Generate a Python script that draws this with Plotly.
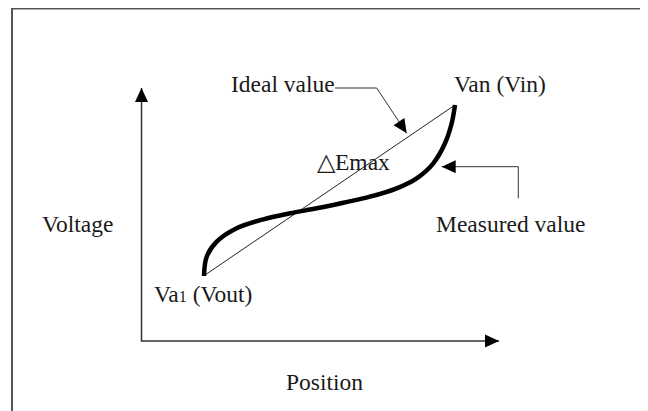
import plotly.graph_objects as go
import numpy as np

# diagram coordinates (pixel-like units, y grows downward)
measured_x = [204, 206.7, 216.7, 236.7, 263.3, 290, 316.7, 343.3, 370, 396.7, 416.7, 433.3, 445, 451.7, 455]
measured_y = [276, 256.7, 241.7, 228.3, 219.3, 213.3, 208.3, 202.7, 196.7, 188.3, 178.3, 163.3, 143.3, 123.3, 105]

ideal_x = [205, 455]
ideal_y = [275, 105]

# axis lines: top of y axis, corner, end of x axis
axis_x = [141.5, 141.5, 499]
axis_y = [88, 341, 341]

# leader lines
ideal_leader_x = [335, 376.7, 406.7]
ideal_leader_y = [88, 88, 133.3]
measured_leader_x = [518.3, 518.3, 441.7]
measured_leader_y = [198.3, 166.7, 166.7]

# border (top and left)
border_x = [660, 12, 12]
border_y = [8.5, 8.5, 420]

labels = ["Ideal value", "Van (Vin)", "△Emax", "Measured value",
          "Va<span style='font-size:16px'>1</span> (Vout)", "Voltage", "Position"]
label_x = [229, 452, 315, 434, 152, 40, 284]
label_y = [84, 84, 162, 224, 294, 224, 382]

FONT = "Liberation Serif, Times New Roman, serif"


def arrow_path(tail, tip, length=14, half=6.5):
    # filled triangle pointing from tail towards tip
    d = np.array(tip, float) - np.array(tail, float)
    d = d / np.hypot(*d)
    n = np.array([-d[1], d[0]])
    base = np.array(tip) - d * length
    p1 = base + n * half
    p2 = base - n * half
    return f"M {tip[0]},{tip[1]} L {p1[0]},{p1[1]} L {p2[0]},{p2[1]} Z"


fig = go.Figure()

fig.add_trace(go.Scatter(x=border_x, y=border_y, mode="lines",
                         line=dict(color="#555555", width=2), hoverinfo="skip"))
fig.add_trace(go.Scatter(x=axis_x, y=axis_y, mode="lines",
                         line=dict(color="#333333", width=1.5), hoverinfo="skip"))
fig.add_trace(go.Scatter(x=ideal_x, y=ideal_y, mode="lines",
                         line=dict(color="#222222", width=1), hoverinfo="skip"))
fig.add_trace(go.Scatter(x=measured_x, y=measured_y, mode="lines",
                         line=dict(color="black", width=4.5, shape="spline"), hoverinfo="skip"))
fig.add_trace(go.Scatter(x=ideal_leader_x, y=ideal_leader_y, mode="lines",
                         line=dict(color="#333333", width=1), hoverinfo="skip"))
fig.add_trace(go.Scatter(x=measured_leader_x, y=measured_leader_y, mode="lines",
                         line=dict(color="#333333", width=1), hoverinfo="skip"))

# arrowheads
heads = [
    ((axis_x[1], axis_y[1]), (axis_x[0], axis_y[0])),
    ((axis_x[1], axis_y[1]), (axis_x[2], axis_y[2])),
    ((ideal_leader_x[1], ideal_leader_y[1]), (ideal_leader_x[2], ideal_leader_y[2])),
    ((measured_leader_x[1], measured_leader_y[1]), (measured_leader_x[2], measured_leader_y[2])),
]
for tail, tip in heads:
    fig.add_shape(type="path", path=arrow_path(tail, tip), xref="x", yref="y",
                  fillcolor="black", line=dict(width=0))

for txt, x, y in zip(labels, label_x, label_y):
    fig.add_annotation(x=x, y=y, text=txt, showarrow=False, xanchor="left", yanchor="middle",
                       font=dict(family=FONT, size=23.5, color="#1a1a1a"))

# page body has an 8px margin, so the visible window starts at 8 figure px
fig.update_xaxes(range=[8, 656], visible=False)
fig.update_yaxes(range=[419, 8], visible=False)
fig.update_layout(width=648, height=411, margin=dict(l=0, r=0, t=0, b=0),
                  showlegend=False, plot_bgcolor="white", paper_bgcolor="white")

fig.write_html("out.html")
